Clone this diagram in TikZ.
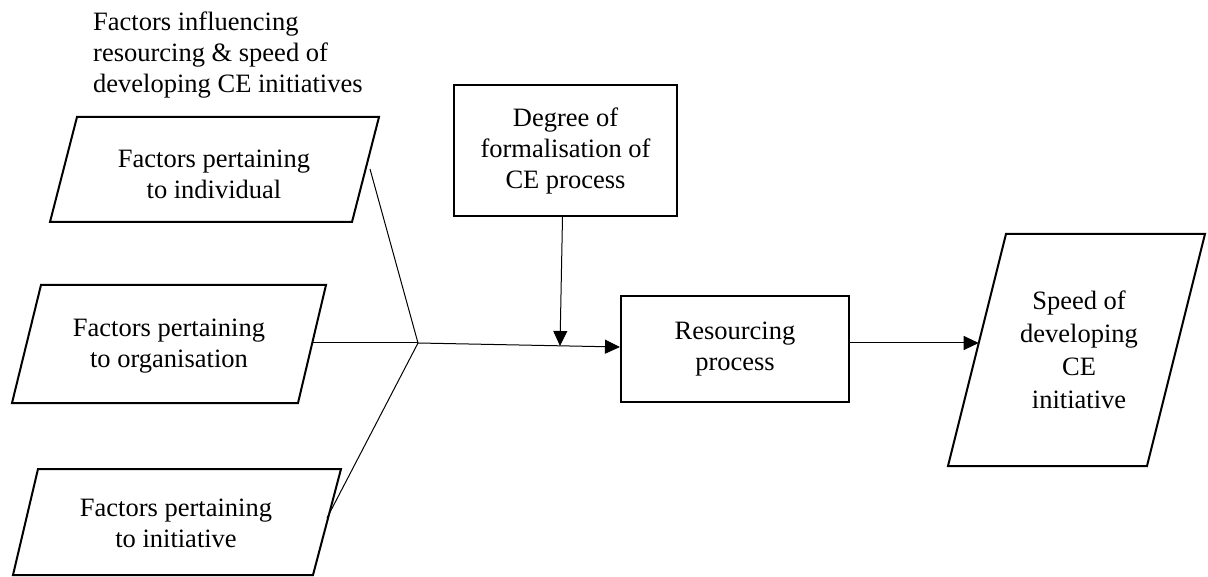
\documentclass[tikz,border=0pt]{standalone}
\usepackage{fontspec}
\setmainfont{Liberation Serif}
\usetikzlibrary{arrows.meta}
\begin{document}
\begin{tikzpicture}[x=1pt,y=-1pt,
  lbl/.style={align=center,font=\fontsize{26.5}{31}\selectfont,inner sep=0pt},
  frame/.style={line width=2pt,line join=miter},
  boxnode/.style={lbl,draw,line width=2pt,rectangle},
  link/.style={line width=1pt},
  arr/.style={link,-{Triangle[length=15pt,width=14pt]}}]
\useasboundingbox (0,0) rectangle (1208,577);

% heading above the factor group
\node[lbl,align=left,anchor=north west] (title) at (93,12)
  {Factors influencing\\resourcing \& speed of\\developing CE initiatives};

% the three factor groups (parallelograms)
\draw[frame] (77,117) -- (379,117) -- (352,222) -- (50,222) -- cycle;
\node[lbl] (ind) at (214,174) {Factors pertaining\\to individual};
\draw[frame] (41,285) -- (326,285) -- (298,403) -- (12,403) -- cycle;
\node[lbl] (org) at (169,346) {Factors pertaining\\to organisation};
\draw[frame] (38,469) -- (341,469) -- (313,575) -- (13,575) -- cycle;
\node[lbl] (ini) at (176,523) {Factors pertaining\\to initiative};

% process boxes
\node[boxnode,minimum width=223pt,minimum height=131pt] (deg) at (565.5,150.5)
  {Degree of\\formalisation of\\CE process};
\node[boxnode,minimum width=228pt,minimum height=106pt] (res) at (735,349)
  {Resourcing\\process};

% outcome (parallelogram)
\draw[frame] (1006,234) -- (1205,234) -- (1147,466) -- (948,466) -- cycle;
\node[lbl,font=\fontsize{26.5}{33}\selectfont] (spd) at (1079,350)
  {Speed of\\developing\\CE\\initiative};

% connector end points
\coordinate (ind-e) at (370,169);
\coordinate (org-e) at (312,343);
\coordinate (ini-e) at (327,518);
\coordinate (j) at (418,343);
\coordinate (m) at (560,346);
\coordinate (spd-w) at (978.7,343);

% connectors
\draw[link] (ind-e) -- (j);
\draw[link] (org-e) -- (j);
\draw[link] (ini-e) -- (j);
\draw[arr] (j) -- ([yshift=2pt]res.west);
\draw[arr] ([xshift=-3pt]deg.south) -- (m);
\draw[arr] ([yshift=6pt]res.east) -- (spd-w);
\end{tikzpicture}
\end{document}
